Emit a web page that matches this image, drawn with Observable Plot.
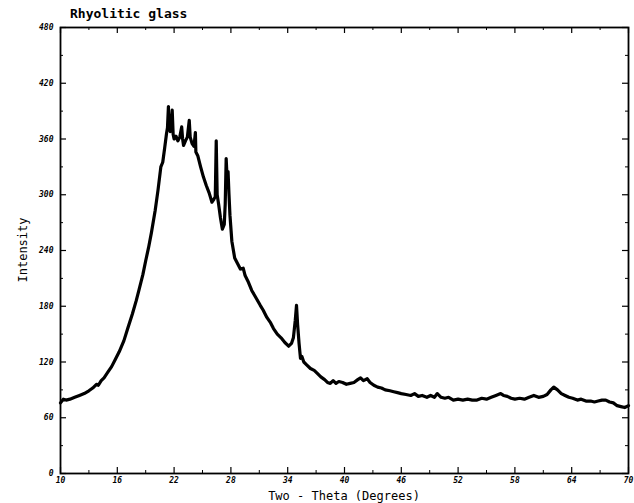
<!DOCTYPE html>
<html>
<head>
<meta charset="utf-8">
<script src="https://cdn.jsdelivr.net/npm/d3@7"></script>
<script src="https://cdn.jsdelivr.net/npm/@observablehq/plot@0.6"></script>
<style>
  html, body { margin: 0; padding: 0; background: #fff; }
  #chart { position: relative; width: 634px; height: 503px; }
  svg { display: block; }
</style>
</head>
<body>
<div id="chart"></div>
<script>
const title = "Rhyolitic glass";
const xLabel = "Two - Theta (Degrees)";
const yLabel = "Intensity";
const xTicks = [10, 16, 22, 28, 34, 40, 46, 52, 58, 64, 70];
const yTicks = [0, 60, 120, 180, 240, 300, 360, 420, 480];
const xMinor = [13, 19, 25, 31, 37, 43, 49, 55, 61, 67];
const yMinor = [30, 90, 150, 210, 270, 330, 390, 450];

const theta = [
  10.0, 10.3, 10.6, 11.0, 11.5, 12.0, 12.5, 13.0, 13.4, 13.8, 14.0, 14.3, 14.6, 15.0, 15.4, 15.8,
  16.2, 16.7, 17.1, 17.6, 18.0, 18.3, 18.7, 19.0, 19.3, 19.6, 20.0, 20.3, 20.6, 20.8, 21.0, 21.2,
  21.3, 21.4, 21.45, 21.6, 21.8, 21.9, 22.0, 22.2, 22.4, 22.6, 22.8, 22.9, 23.0, 23.2, 23.4, 23.6,
  23.7, 23.9, 24.1, 24.25, 24.3, 24.5, 24.8, 25.1, 25.4, 25.7, 26.0, 26.2, 26.35, 26.45, 26.55, 26.7,
  26.9, 27.1, 27.3, 27.4, 27.5, 27.6, 27.7, 27.8, 27.9, 28.1, 28.4, 28.7, 29.0, 29.3, 29.5, 29.8,
  30.2, 30.6, 31.1, 31.4, 31.8, 32.2, 32.5, 32.9, 33.3, 33.7, 34.1, 34.4, 34.6, 34.8, 34.93, 35.05,
  35.2, 35.35, 35.5, 35.7, 36.0, 36.4, 36.8, 37.1, 37.5, 37.9, 38.2, 38.5, 38.8, 39.1, 39.4, 39.8,
  40.2, 40.6, 41.0, 41.4, 41.7, 42.0, 42.4, 42.7, 43.1, 43.5, 43.9, 44.3, 44.8, 45.2, 45.6, 46.0,
  46.5, 47.0, 47.4, 47.8, 48.2, 48.7, 49.1, 49.5, 49.8, 50.2, 50.6, 51.0, 51.5, 52.0, 52.5, 53.0,
  53.5, 54.0, 54.5, 55.0, 55.5, 56.0, 56.5, 56.8, 57.2, 57.6, 58.0, 58.5, 59.0, 59.5, 60.0, 60.5,
  61.0, 61.4, 61.8, 62.1, 62.5, 62.9, 63.3, 63.7, 64.1, 64.6, 65.0, 65.5, 66.0, 66.4, 66.8, 67.2,
  67.6, 68.0, 68.4, 68.8, 69.2, 69.6, 70.0
];
const intensity = [
  76, 80, 79, 80, 82, 84, 86, 89, 92, 96, 95, 100, 103, 109, 115, 123,
  131, 143, 156, 172, 186, 198, 214, 229, 243, 259, 283, 305, 330, 335, 350, 366,
  372, 395, 372, 368, 391, 365, 360, 363, 358, 362, 373, 360, 353, 358, 362, 380,
  362, 355, 352, 367, 346, 342, 330, 319, 310, 302, 292, 295, 298, 358, 300, 290,
  275, 263, 268, 290, 339, 318, 325, 300, 278, 250, 232, 226, 220, 221, 213, 207,
  197, 190, 181, 176, 168, 162, 156, 150, 146, 141, 137, 140, 146, 165, 181, 160,
  140, 124, 126, 120, 117, 113, 111, 108, 104, 101, 98, 97, 100, 97, 99, 98,
  96, 97, 98, 101, 103, 100, 102, 98, 95, 93, 92, 90, 89, 88, 87, 86,
  85, 84, 86, 83, 84, 82, 84, 82, 86, 82, 81, 82, 79, 80, 79, 80,
  79, 79, 81, 80, 82, 84, 86, 84, 83, 81, 80, 81, 80, 82, 84, 82,
  83, 85, 90, 93, 90, 86, 84, 82, 81, 79, 80, 78, 78, 77, 78, 79,
  79, 77, 76, 73, 72, 71, 73
];

const data = theta.map((t, i) => ({theta: t, intensity: intensity[i]}));

const W = 634, H = 503;
const mL = 60, mR = 6, mT = 27, mB = 30;
const innerW = W - mL - mR, innerH = H - mT - mB;
const font = "'DejaVu Sans Mono', monospace";

const plot = Plot.plot({
  width: W,
  height: H,
  marginLeft: mL,
  marginRight: mR,
  marginTop: mT,
  marginBottom: mB,
  style: {fontFamily: font, fontSize: "8px", color: "#000", background: "#fff"},
  x: {domain: [10, 70], label: null},
  y: {domain: [0, 480], label: null},
  marks: [
    Plot.ruleX(xTicks, {x: d => d, insetTop: innerH - 6, stroke: "#000", strokeWidth: 1.2}),
    Plot.ruleX(xTicks, {x: d => d, insetBottom: innerH - 6, stroke: "#000", strokeWidth: 1.2}),
    Plot.ruleX(xMinor, {x: d => d, insetTop: innerH - 3, stroke: "#000", strokeWidth: 1}),
    Plot.ruleX(xMinor, {x: d => d, insetBottom: innerH - 3, stroke: "#000", strokeWidth: 1}),
    Plot.ruleY(yTicks, {y: d => d, insetRight: innerW - 6, stroke: "#000", strokeWidth: 1.2}),
    Plot.ruleY(yTicks, {y: d => d, insetLeft: innerW - 6, stroke: "#000", strokeWidth: 1.2}),
    Plot.ruleY(yMinor, {y: d => d, insetRight: innerW - 3, stroke: "#000", strokeWidth: 1}),
    Plot.ruleY(yMinor, {y: d => d, insetLeft: innerW - 3, stroke: "#000", strokeWidth: 1}),
    Plot.axisX({ticks: xTicks, tickSize: 0, tickPadding: 4, fontStyle: "italic", fontWeight: "bold", fontSize: 8, label: null}),
    Plot.axisY({ticks: yTicks, tickSize: 0, tickPadding: 7, fontStyle: "italic", fontWeight: "bold", fontSize: 8, label: null}),
    Plot.frame({stroke: "#000", strokeWidth: 1.8}),
    Plot.line(data, {x: "theta", y: "intensity", stroke: "#000", strokeWidth: 3.2, strokeLinejoin: "round"})
  ]
});

const chart = document.getElementById("chart");
chart.appendChild(plot);

const svg = d3.select(plot);
svg.append("text")
  .attr("x", 70).attr("y", 18)
  .attr("text-anchor", "start")
  .attr("font-family", font).attr("font-size", 13).attr("font-weight", "bold")
  .attr("fill", "#000").text(title);
svg.append("text")
  .attr("x", mL + innerW / 2).attr("y", 500)
  .attr("text-anchor", "middle")
  .attr("font-family", font).attr("font-size", 12)
  .attr("fill", "#000").text(xLabel);
svg.append("text")
  .attr("transform", `translate(27,${mT + innerH / 2}) rotate(-90)`)
  .attr("text-anchor", "middle")
  .attr("font-family", font).attr("font-size", 12)
  .attr("fill", "#000").text(yLabel);
</script>
</body>
</html>
